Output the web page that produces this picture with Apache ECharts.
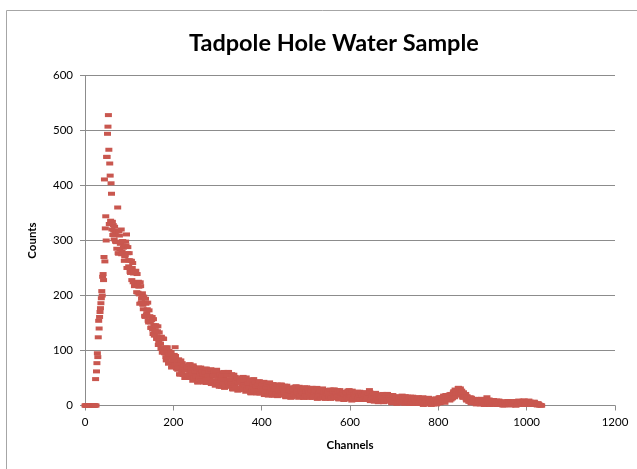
<!DOCTYPE html>
<html>
<head>
<meta charset="utf-8">
<script src="https://cdn.jsdelivr.net/npm/echarts@6/dist/echarts.min.js"></script>
<style>html,body{margin:0;padding:0;background:#fff}#c{width:637px;height:469px}</style>
</head>
<body>
<div id="c"></div>
<script>
// Counts for channels 0..69, one value per channel
const peakStart = 0;
const peakCounts = [
  0,0,0,0,0,0,0,0,0,0, 0,0,0,0,0,0,0,0,0,0, 0,0,0,0,
  48,0,62,77,95,88,124,154,140,161,170,177,186,195,208,200,234,239,228,270,
  411,262,322,344,300,452,452,494,507,528,465,330,440,418,336,404,
  385,320,334,310,328,318,302,325,312,298
];
// Counts for even channels 70..1034
const evenStart = 70;
const evenCounts = [
  316,285,360,276,309,294,320,280,298,289,
  271,298,311,277,264,277,243,263,228,259,
  240,217,241,218,239,205,216,185,217,194,
  204,175,187,161,185,168,187,151,162,151,
  142,161,130,146,136,146,121,135,110,133,
  120,103,121,104,121,95,105,82,106,89,
  99,78,87,69,88,77,92,106,75,68,
  65,84,57,73,67,77,56,71,50,72,
  64,51,70,57,75,53,64,45,70,57,
  68,49,59,42,63,53,69,44,55,49,
  47,67,41,58,53,63,43,59,39,60,
  53,39,59,45,65,41,54,34,60,46,
  60,39,50,32,55,43,61,34,45,39,
  37,57,30,47,42,52,32,48,27,49,
  41,30,47,35,52,31,42,25,47,36,
  46,28,39,22,42,32,48,24,34,29,
  27,44,22,36,31,40,24,36,19,38,
  31,20,37,26,42,24,33,18,39,28,
  37,21,30,17,34,26,38,18,27,23,
  20,36,16,29,25,33,17,29,14,32,
  26,17,31,22,35,20,27,14,32,23,
  32,18,26,14,29,22,33,15,23,19,
  18,32,14,26,22,29,15,26,12,28,
  23,15,27,19,31,16,24,12,28,20,
  28,16,23,12,26,19,29,13,20,16,
  15,28,12,23,19,25,13,23,10,24,
  20,12,24,16,28,13,21,9,25,17,
  24,13,20,10,22,16,25,11,17,14,
  13,24,10,19,16,22,10,28,8,21,
  16,9,20,13,23,11,16,6,20,13,
  20,9,16,6,18,12,21,7,13,10,
  8,19,5,14,11,17,5,14,3,16,
  12,5,15,9,18,6,12,3,16,9,
  16,6,11,3,14,9,16,3,9,6,
  5,15,3,11,8,13,3,11,1,12,
  9,3,12,6,14,5,9,1,12,6,
  12,3,9,2,11,8,15,4,10,8,
  7,18,6,15,13,19,10,19,9,21,
  19,13,24,19,29,19,26,18,32,25,
  31,20,23,14,21,16,21,9,13,10,
  7,15,4,11,7,12,4,9,2,10,
  8,3,10,5,12,4,8,1,10,5,
  15,3,7,1,9,5,10,1,5,3,
  3,9,1,6,4,8,1,6,0,6,
  4,1,6,3,8,2,5,0,7,4,
  7,2,5,0,6,4,9,2,5,3,
  3,9,1,6,4,8,2,7,1,7,
  4,2,6,3,6,1,3,0,4,2,
  1,0,0
];
// Counts for odd channels 71..1033
const oddStart = 71;
const oddCounts = [
  297,317,277,317,284,296,275,299,287,263,
  273,291,250,288,253,264,241,263,250,224,
  244,221,245,206,218,225,202,224,187,199,
  183,198,163,194,165,175,154,173,162,141,
  155,138,157,127,137,144,126,144,115,125,
  112,125,96,122,97,105,88,104,95,76,
  93,78,97,71,81,87,74,90,67,76,
  68,81,56,82,61,70,56,72,65,50,
  69,55,75,50,61,68,56,73,51,61,
  53,67,42,69,49,59,45,62,56,42,
  60,47,67,43,54,61,49,66,44,55,
  46,62,36,64,42,52,38,57,50,34,
  54,40,61,35,47,55,41,61,36,48,
  40,54,29,56,36,45,32,49,42,28,
  45,33,51,29,39,46,34,51,29,40,
  32,45,23,47,28,38,26,41,35,22,
  38,27,44,22,32,39,28,43,24,33,
  26,38,18,41,24,32,22,35,30,18,
  32,22,38,19,28,34,24,38,20,29,
  23,34,15,36,20,28,18,31,26,15,
  29,20,34,17,25,30,21,34,18,26,
  21,31,14,33,19,25,16,28,24,14,
  27,18,32,15,23,28,19,32,16,24,
  19,28,13,30,17,23,15,26,22,13,
  25,16,29,14,21,26,17,29,15,22,
  17,26,11,28,15,21,13,24,20,11,
  23,14,27,12,19,23,15,27,13,20,
  16,24,10,25,14,19,11,21,18,10,
  20,13,24,11,17,21,14,24,11,18,
  13,21,7,22,11,16,8,18,15,7,
  17,10,21,8,14,18,11,21,8,15,
  10,18,4,19,8,13,5,15,12,4,
  14,7,17,5,11,14,8,17,6,11,
  8,15,3,16,6,10,4,13,10,3,
  12,5,15,3,9,12,6,15,4,9,
  6,12,2,13,5,8,3,10,8,2,
  9,4,13,3,8,13,7,15,6,11,
  9,17,5,19,10,15,10,20,17,11,
  21,15,26,15,22,27,22,32,22,27,
  23,27,15,24,15,17,11,17,14,7,
  12,7,14,5,8,11,6,12,4,8,
  5,11,2,12,3,7,2,9,7,2,
  8,3,11,2,6,8,3,10,2,6,
  4,8,1,9,3,6,1,6,4,0,
  6,2,8,1,4,6,3,8,2,5,
  3,7,0,8,2,5,2,7,5,1,
  7,3,9,2,5,7,4,9,3,6,
  3,6,1,7,2,4,1,4,2,0,
  1,0
];
const xTicks = [0,200,400,600,800,1000,1200];
const yTicks = [0,100,200,300,400,500,600];

const data = [];
peakCounts.forEach((v,i)=>data.push([peakStart+i, v]));
evenCounts.forEach((v,i)=>data.push([evenStart+i*2, v]));
oddCounts.forEach((v,i)=>data.push([oddStart+i*2, v]));

const chart = echarts.init(document.getElementById('c'), null, {renderer:'canvas'});
const axisColor = '#8c8c8c';
chart.setOption({
  animation:false,
  backgroundColor:'#fff',
  title:{
    text:'Tadpole Hole Water Sample',
    left:184, top:26,
    textStyle:{fontFamily:'Lato', fontWeight:'bold', fontSize:23.5, color:'#000'}
  },
  graphic:[{
    type:'rect', z:-1, silent:true,
    shape:{x:6.5, y:10.5, width:700, height:600},
    style:{fill:'none', stroke:'#a6a6a6', lineWidth:1}
  }],
  grid:{left:85, right:22, top:75.5, bottom:63.5, containLabel:false},
  xAxis:{
    type:'value', min:0, max:1200, interval:200,
    name:'Channels', nameLocation:'middle', nameGap:34,
    nameTextStyle:{fontFamily:'Lato', fontWeight:'bold', fontSize:11.5, color:'#000'},
    axisLine:{show:true, lineStyle:{color:axisColor, width:1}},
    axisTick:{show:true, length:5, lineStyle:{color:axisColor}},
    axisLabel:{fontFamily:'Lato', fontSize:11.5, color:'#000', margin:11,
      formatter:v=>xTicks.includes(v)?String(v):''},
    splitLine:{show:false}
  },
  yAxis:{
    type:'value', min:0, max:600, interval:100,
    name:'Counts', nameLocation:'middle', nameGap:47, nameRotate:90,
    nameTextStyle:{fontFamily:'Lato', fontWeight:'bold', fontSize:11.5, color:'#000'},
    axisLine:{show:true, lineStyle:{color:axisColor, width:1}},
    axisTick:{show:true, length:5, lineStyle:{color:axisColor}},
    axisLabel:{fontFamily:'Lato', fontSize:11.5, color:'#000', margin:12,
      formatter:v=>yTicks.includes(v)?String(v):''},
    splitLine:{show:true, lineStyle:{color:axisColor, width:1}}
  },
  series:[{
    type:'scatter',
    data:data,
    symbol:'rect',
    symbolSize:[7,4],
    itemStyle:{color:'#c9574f', opacity:1}
  }]
});
</script>
</body>
</html>
